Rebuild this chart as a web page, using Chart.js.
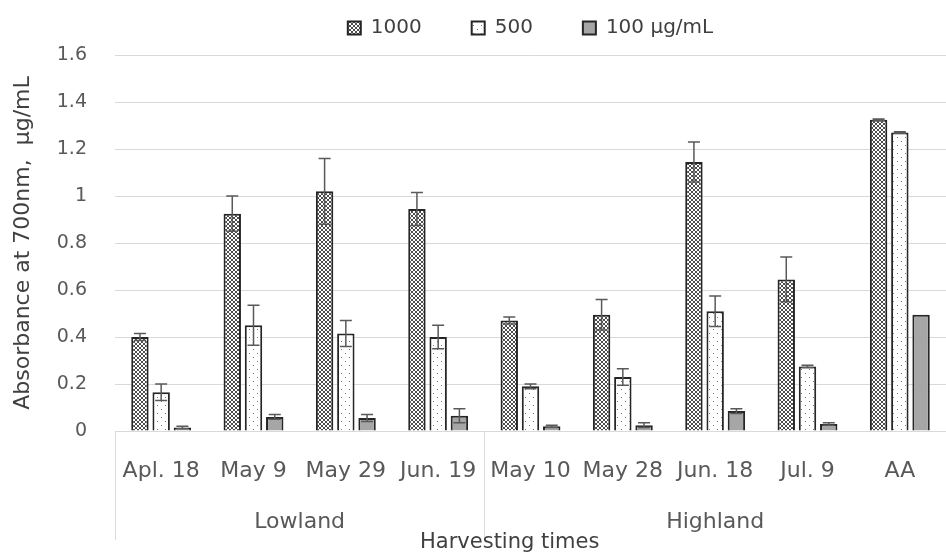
<!DOCTYPE html>
<html>
<head>
<meta charset="utf-8">
<script src="https://cdn.jsdelivr.net/npm/chart.js@4"></script>
<style>
  html, body { margin: 0; padding: 0; background: #fff; }
  #wrap { width: 946px; height: 555px; }
</style>
</head>
<body>
<div id="wrap"><canvas id="chart"></canvas></div>
<script>
// categories and groups
const categories = ['Apl. 18', 'May 9', 'May 29', 'Jun. 19', 'May 10', 'May 28', 'Jun. 18', 'Jul. 9', 'AA'];
const groups = [{ label: 'Lowland', from: 0, to: 3 }, { label: 'Highland', from: 4, to: 8 }];

// absorbance values per concentration
const values1000 = [0.40, 0.925, 1.02, 0.945, 0.47, 0.495, 1.145, 0.645, 1.325];
const values500 = [0.165, 0.45, 0.415, 0.40, 0.19, 0.23, 0.51, 0.275, 1.27];
const values100 = [0.015, 0.06, 0.055, 0.065, 0.02, 0.025, 0.085, 0.03, 0.495];

// standard deviations (error bars)
const err1000 = [0.015, 0.075, 0.14, 0.07, 0.015, 0.065, 0.085, 0.095, 0.003];
const err500 = [0.035, 0.085, 0.055, 0.05, 0.01, 0.035, 0.065, 0.005, 0.003];
const err100 = [0.005, 0.01, 0.015, 0.03, 0.005, 0.01, 0.01, 0.005, 0];

const yTicks = [0, 0.2, 0.4, 0.6, 0.8, 1, 1.2, 1.4, 1.6];

const FONT = "'DejaVu Sans', sans-serif";
const TEXT = '#595959';

function makePattern(kind) {
  const c = document.createElement('canvas');
  const ctx = c.getContext('2d');
  if (kind === 'cross') {
    c.width = c.height = 4;
    ctx.fillStyle = '#fff';
    ctx.fillRect(0, 0, 4, 4);
    ctx.strokeStyle = '#3a3a3a';
    ctx.lineWidth = 0.9;
    ctx.beginPath();
    ctx.moveTo(0, 0); ctx.lineTo(4, 4);
    ctx.moveTo(4, 0); ctx.lineTo(0, 4);
    ctx.stroke();
  } else {
    c.width = c.height = 8;
    ctx.fillStyle = '#fff';
    ctx.fillRect(0, 0, 8, 8);
    ctx.fillStyle = '#7a7a7a';
    ctx.fillRect(1, 1, 1, 1);
    ctx.fillRect(5, 5, 1, 1);
  }
  return ctx.createPattern(c, 'repeat');
}

const errors = [err1000, err500, err100];

// keep the legend's vertical footprint fixed so the plot starts at the same place
const legendHeight = {
  id: 'legendHeight',
  beforeLayout(chart) {
    const lg = chart.legend;
    if (!lg || lg._fixed) return;
    const fit = lg.fit;
    lg.fit = function () { fit.call(this); this.height = 87; };
    lg._fixed = true;
  }
};

// error bars + category group axis
const extras = {
  id: 'extras',
  afterDatasetsDraw(chart) {
    const ctx = chart.ctx;
    const y = chart.scales.y;
    ctx.save();
    ctx.strokeStyle = '#595959';
    ctx.lineWidth = 1.5;
    chart.data.datasets.forEach((ds, di) => {
      const meta = chart.getDatasetMeta(di);
      meta.data.forEach((bar, i) => {
        const e = errors[di][i];
        if (!e) return;
        const top = y.getPixelForValue(ds.data[i] + e);
        const bot = y.getPixelForValue(Math.max(ds.data[i] - e, 0));
        ctx.beginPath();
        ctx.moveTo(bar.x, top); ctx.lineTo(bar.x, bot);
        ctx.moveTo(bar.x - 6, top); ctx.lineTo(bar.x + 6, top);
        ctx.moveTo(bar.x - 6, bot); ctx.lineTo(bar.x + 6, bot);
        ctx.stroke();
      });
    });
    ctx.restore();
  },
  afterDraw(chart) {
    const ctx = chart.ctx;
    const x = chart.scales.x;
    const area = chart.chartArea;
    const edge = i => {
      if (i <= 0) return area.left;
      if (i >= categories.length) return area.right;
      return (x.getPixelForValue(i - 1) + x.getPixelForValue(i)) / 2;
    };
    ctx.save();
    ctx.strokeStyle = '#d9d9d9';
    ctx.lineWidth = 1;
    [0, 4].forEach(i => {
      const px = Math.round(edge(i)) + 0.5;
      ctx.beginPath();
      ctx.moveTo(px, area.bottom); ctx.lineTo(px, area.bottom + 109);
      ctx.stroke();
    });
    ctx.fillStyle = TEXT;
    ctx.font = '22px ' + FONT;
    ctx.textAlign = 'center';
    ctx.textBaseline = 'alphabetic';
    groups.forEach(g => {
      ctx.fillText(g.label, (edge(g.from) + edge(g.to + 1)) / 2, area.bottom + 97);
    });
    ctx.fillStyle = '#404040';
    ctx.font = '21px ' + FONT;
    ctx.fillText('Harvesting times', area.left + (area.right - area.left) * 0.475, area.bottom + 117);
    ctx.restore();
  }
};

const bw = 2, bc = '#262626';
new Chart(document.getElementById('chart'), {
  type: 'bar',
  data: {
    labels: categories,
    datasets: [
      { label: '1000', data: values1000, backgroundColor: makePattern('cross'), borderColor: bc, borderWidth: bw },
      { label: '500', data: values500, backgroundColor: makePattern('dots'), borderColor: bc, borderWidth: bw },
      { label: '100 μg/mL', data: values100, backgroundColor: '#a6a6a6', borderColor: bc, borderWidth: bw }
    ]
  },
  options: {
    responsive: true,
    maintainAspectRatio: false,
    animation: false,
    layout: { padding: { top: -32, right: 0, left: 0, bottom: 0 } },
    datasets: { bar: { categoryPercentage: 0.69, barPercentage: 0.82 } },
    plugins: {
      legend: {
        position: 'top',
        fullSize: false,
        labels: {
          boxWidth: 13, boxHeight: 13, padding: 50,
          color: '#404040',
          font: { family: FONT, size: 20 }
        }
      },
      tooltip: { enabled: false }
    },
    scales: {
      x: {
        grid: { display: false, drawTicks: false },
        border: { color: '#d9d9d9' },
        ticks: { color: TEXT, padding: 27, font: { family: FONT, size: 22 }, maxRotation: 0, autoSkip: false },
        afterFit: s => { s.height = 124; }
      },
      y: {
        min: 0, max: 1.6,
        afterBuildTicks: s => { s.ticks = yTicks.map(v => ({ value: v })); },
        grid: { color: '#d9d9d9', drawTicks: false },
        border: { display: false },
        ticks: { color: TEXT, padding: 28, font: { family: FONT, size: 19 }, callback: v => String(+v.toFixed(1)) },
        title: { display: true, text: 'Absorbance at 700nm,  μg/mL', color: '#404040', font: { family: FONT, size: 22 }, padding: { top: 10, bottom: 0 } },
        afterFit: s => { s.width = 115; }
      }
    }
  },
  plugins: [legendHeight, extras]
});
</script>
</body>
</html>
